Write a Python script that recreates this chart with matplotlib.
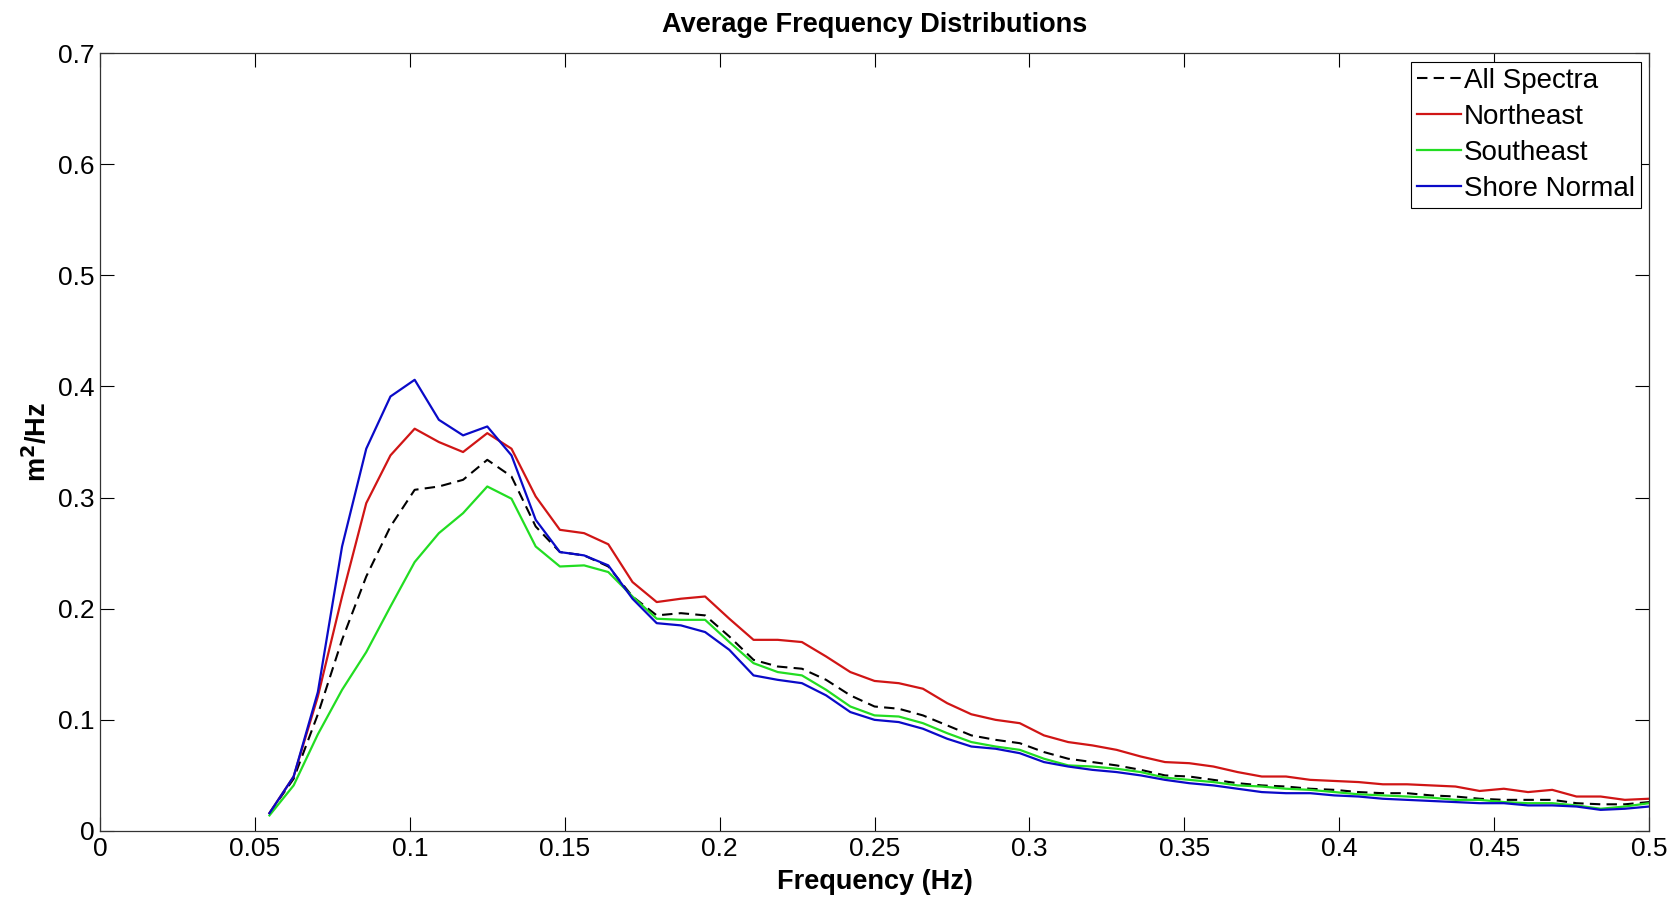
import numpy as np
import matplotlib
matplotlib.use("Agg")
import matplotlib.pyplot as plt

plt.rcParams['font.family'] = ['Liberation Sans', 'DejaVu Sans']

# frequency bins (Hz), df = 1/128
freq = np.arange(7, 65) / 128.0

all_spectra = [0.016, 0.047, 0.105, 0.172, 0.229, 0.274, 0.307, 0.310, 0.316, 0.334,
               0.319, 0.274, 0.251, 0.248, 0.238, 0.211, 0.194, 0.196, 0.194, 0.175,
               0.154, 0.148, 0.146, 0.136, 0.122, 0.112, 0.110, 0.104, 0.095, 0.086,
               0.082, 0.079, 0.071, 0.065, 0.062, 0.059, 0.055, 0.050, 0.049, 0.046,
               0.043, 0.041, 0.040, 0.038, 0.037, 0.035, 0.034, 0.034, 0.032, 0.031,
               0.029, 0.028, 0.028, 0.028, 0.025, 0.024, 0.024, 0.026]

northeast = [0.016, 0.049, 0.121, 0.211, 0.295, 0.338, 0.362, 0.350, 0.341, 0.358,
             0.344, 0.301, 0.271, 0.268, 0.258, 0.224, 0.206, 0.209, 0.211, 0.191,
             0.172, 0.172, 0.170, 0.157, 0.143, 0.135, 0.133, 0.128, 0.115, 0.105,
             0.100, 0.097, 0.086, 0.080, 0.077, 0.073, 0.067, 0.062, 0.061, 0.058,
             0.053, 0.049, 0.049, 0.046, 0.045, 0.044, 0.042, 0.042, 0.041, 0.040,
             0.036, 0.038, 0.035, 0.037, 0.031, 0.031, 0.028, 0.029]

southeast = [0.014, 0.041, 0.087, 0.127, 0.161, 0.202, 0.242, 0.268, 0.286, 0.310,
             0.299, 0.256, 0.238, 0.239, 0.233, 0.211, 0.191, 0.190, 0.190, 0.170,
             0.151, 0.143, 0.140, 0.127, 0.112, 0.104, 0.103, 0.097, 0.088, 0.080,
             0.076, 0.073, 0.065, 0.059, 0.058, 0.056, 0.053, 0.048, 0.046, 0.044,
             0.041, 0.040, 0.038, 0.037, 0.035, 0.033, 0.032, 0.031, 0.030, 0.028,
             0.028, 0.026, 0.025, 0.025, 0.023, 0.020, 0.022, 0.025]

shore_normal = [0.016, 0.049, 0.125, 0.256, 0.344, 0.391, 0.406, 0.370, 0.356, 0.364,
                0.338, 0.280, 0.251, 0.248, 0.239, 0.209, 0.187, 0.185, 0.179, 0.163,
                0.140, 0.136, 0.133, 0.122, 0.107, 0.100, 0.098, 0.092, 0.083, 0.076,
                0.074, 0.070, 0.062, 0.058, 0.055, 0.053, 0.050, 0.046, 0.043, 0.041,
                0.038, 0.035, 0.034, 0.034, 0.032, 0.031, 0.029, 0.028, 0.027, 0.026,
                0.025, 0.025, 0.023, 0.023, 0.022, 0.019, 0.020, 0.022]

xticks = [0, 0.05, 0.1, 0.15, 0.2, 0.25, 0.3, 0.35, 0.4, 0.45, 0.5]
xtick_labels = ['0', '0.05', '0.1', '0.15', '0.2', '0.25', '0.3', '0.35', '0.4', '0.45', '0.5']
yticks = [0, 0.1, 0.2, 0.3, 0.4, 0.5, 0.6, 0.7]
ytick_labels = ['0', '0.1', '0.2', '0.3', '0.4', '0.5', '0.6', '0.7']

fig = plt.figure(figsize=(16.81, 9.0), dpi=100)
ax = fig.add_axes([0.0595, 0.0767, 0.9215, 0.8643])

ax.plot(freq, all_spectra, color='black', linestyle='--', linewidth=1.5, dashes=(5, 3), label='All Spectra')
ax.plot(freq, northeast, color='#d01515', linewidth=1.6, label='Northeast')
ax.plot(freq, southeast, color='#22dd22', linewidth=1.6, label='Southeast')
ax.plot(freq, shore_normal, color='#0a0ac8', linewidth=1.6, label='Shore Normal')

ax.set_xlim(0, 0.5)
ax.set_ylim(0, 0.7)
ax.set_xticks(xticks)
ax.set_xticklabels(xtick_labels)
ax.set_yticks(yticks)
ax.set_yticklabels(ytick_labels)
ax.tick_params(direction='in', length=10, width=0.8, labelsize=19,
               top=True, right=True, pad=4)

for sp in ax.spines.values():
    sp.set_linewidth(0.9)
    sp.set_color('#333333')

ax.set_title('Average Frequency Distributions', fontsize=19.5, fontweight='bold', pad=15)
ax.set_xlabel('Frequency (Hz)', fontsize=19.5, fontweight='bold', labelpad=6)
ax.set_ylabel('m$^\\mathbf{2}$/Hz', fontsize=19.5, fontweight='bold', labelpad=4)

leg = ax.legend(loc='upper right', bbox_to_anchor=(0.9945, 0.988), fontsize=20,
                handlelength=1.6, handletextpad=0.1,
                labelspacing=0.36, borderpad=0.2, borderaxespad=0.0,
                fancybox=False, framealpha=1, edgecolor='black')
leg.get_frame().set_linewidth(0.8)

fig.savefig('out.png', dpi=100, facecolor='white')
